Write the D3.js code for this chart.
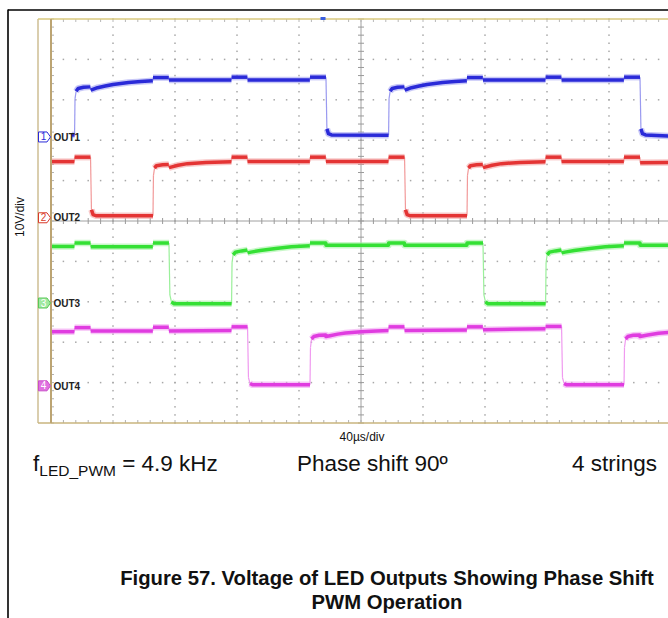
<!DOCTYPE html>
<html><head><meta charset="utf-8">
<script src="https://cdn.jsdelivr.net/npm/d3@7/dist/d3.min.js"></script>
<style>
html,body{margin:0;padding:0;background:#fff;}
svg{display:block;font-family:"Liberation Sans", Arial, Helvetica, sans-serif;}
</style></head><body>
<svg id="c" width="668" height="618"></svg>
<script>
// ---------- DATA ----------
const timeTicks = [0,40,80,120,160,200,240,280,320,360,400];   // µs, 40 µs/div
const divTicks = [-5,-4,-3,-2,-1,0,1,2,3,4,5];                    // vertical divisions
const channelNames = ["OUT1","OUT2","OUT3","OUT4"];
const channelNumbers = ["1","2","3","4"];
const xAxisLabel = "40µs/div";
const yAxisLabel = "10V/div";
const triggerTime = 175.5;

// [time µs, volts]
const out1 = [[13.5,0.5],[15.2,0.5],[15.5,9.5],[16.2,11.3],[17.5,12.0],[21,12.3],[25.4,12.4],[25.6,11.6],[27,11.8],[30,12.2],[35,12.6],[40,13.0],[50,13.5],[58,13.7],[65.7,13.9],[65.8,14.7],[76.0,14.7],[76.1,14.1],[116.4,14.1],[116.5,14.8],[126.7,14.8],[126.8,14.1],[167.0,14.1],[167.1,14.8],[177.4,14.8],[178.0,2.0],[179.0,0.8],[181,0.5],[217.8,0.4],[218.1,9.5],[218.8,11.3],[220.1,12.0],[223.6,12.3],[228.0,12.4],[228.2,11.6],[229.6,11.8],[232.6,12.2],[237.6,12.6],[242.6,13.0],[252.6,13.5],[260.6,13.7],[268.3,13.9],[268.4,14.7],[278.6,14.7],[278.7,14.1],[319.0,14.1],[319.1,14.8],[329.3,14.8],[329.4,14.1],[369.6,14.1],[369.7,14.8],[380.0,14.8],[380.6,2.0],[381.6,0.8],[383.6,0.5],[400,0.2]];
const out2 = [[0,13.9],[15.1,13.9],[15.2,15.0],[25.5,15.0],[26.1,2.0],[27.1,0.8],[29,0.5],[65.8,0.5],[66.1,10.5],[66.8,12.3],[68,12.9],[72,13.1],[76.0,13.2],[76.1,12.4],[78,12.6],[82,13.0],[88,13.4],[100,13.7],[116.4,13.85],[116.5,15.0],[126.7,15.0],[126.8,13.9],[167.0,13.9],[167.1,15.0],[177.3,15.0],[177.4,13.9],[217.7,13.9],[217.8,15.0],[228.1,15.0],[228.7,2.0],[229.7,0.8],[231.6,0.5],[268.4,0.5],[268.7,10.5],[269.4,12.3],[270.6,12.9],[274.6,13.1],[278.6,13.2],[278.7,12.4],[280.6,12.6],[284.6,13.0],[290.6,13.4],[302.6,13.7],[319.0,13.85],[319.1,15.0],[329.3,15.0],[329.4,13.9],[369.6,13.9],[369.7,15.0],[380.0,15.0],[380.1,13.6],[400,13.7]];
const out3 = [[0,14.0],[15.1,14.0],[15.2,14.85],[25.5,14.85],[25.6,13.9],[65.7,13.9],[65.8,14.85],[76.1,14.85],[76.7,2.0],[77.7,0.3],[79.5,-0.2],[116.5,-0.2],[116.8,10.0],[117.5,11.9],[119,12.6],[123,12.9],[126.7,13.1],[126.8,12.4],[129,12.6],[135,13.0],[145,13.5],[155,13.9],[167.0,14.2],[167.1,14.85],[177.3,14.85],[177.4,14.3],[217.7,14.3],[217.8,14.85],[228.0,14.85],[228.1,14.3],[268.3,14.3],[268.4,14.85],[278.7,14.85],[279.3,2.0],[280.3,0.3],[282,-0.2],[319.1,-0.2],[319.4,10.0],[320.1,11.9],[321.6,12.6],[325.6,12.9],[329.3,13.1],[329.4,12.4],[331.6,12.6],[337.6,13.0],[347.6,13.5],[357.6,13.9],[369.6,14.2],[369.7,14.85],[380,14.85],[380.1,14.3],[400,14.3]];
const out4 = [[0,13.4],[15.1,13.4],[15.2,14.4],[25.5,14.4],[25.6,13.6],[65.7,13.6],[65.8,14.5],[76.0,14.5],[76.1,13.6],[116.4,13.7],[116.5,14.6],[126.8,14.6],[127.4,2.0],[128.4,0.6],[130,0.25],[167.1,0.25],[167.4,9.5],[168.1,11.6],[169.5,12.2],[173,12.5],[177.3,12.6],[177.4,12.2],[180,12.4],[185,12.8],[190,13.1],[200,13.4],[210,13.6],[217.7,13.7],[217.8,14.6],[228.0,14.6],[228.1,13.7],[268.3,13.8],[268.4,14.6],[278.6,14.6],[278.7,13.9],[319.0,14.1],[319.1,14.7],[329.4,14.7],[330,2.0],[331,0.6],[332.6,0.25],[369.7,0.25],[370.0,9.5],[370.7,11.6],[372.1,12.2],[375.6,12.5],[379.9,12.6],[380.0,12.2],[385,12.6],[392,13.0],[400,13.3]];
const series = [out1,out2,out3,out4];

// ---------- SETTINGS ----------
const colors = ["#2a2ad8","#e43434","#34e034","#e03ce0"];
const fuzz   = ["#9a9af0","#f29a9a","#9af09a","#f09af0"];
const offsets = [2.08,0.08,-2.03,-4.08]; // channel ground positions in divisions
const voltsPerDiv = 10;

const svg = d3.select("#c");
const x = d3.scaleLinear().domain([0,400]).range([51,671]);
const yDiv = d3.scaleLinear().domain([-5,5]).range([423,19]);
const yOf = (ch,v) => yDiv(offsets[ch] + v/voltsPerDiv);

// outer frame
svg.append("line").attr("x1",8).attr("x2",8).attr("y1",9.5).attr("y2",618).attr("stroke","#000").attr("stroke-width",1.6);
svg.append("line").attr("x1",8).attr("x2",668).attr("y1",10).attr("y2",10).attr("stroke","#000").attr("stroke-width",1.6);

const g = svg.append("g");
const minorT = d3.range(0,400.01,8);
const minorD = d3.range(-5,5.001,0.2);

// grid dots
timeTicks.forEach(t=>{
  if(t===0||t===200||t===400) return;
  minorD.forEach(d=>{
    g.append("rect").attr("x",x(t)-0.75).attr("y",yDiv(d)-0.75).attr("width",1.5).attr("height",1.5).attr("fill","#a8a8a8");
  });
});
divTicks.forEach(d=>{
  if(d===-5||d===0||d===5) return;
  minorT.forEach(t=>{
    g.append("rect").attr("x",x(t)-0.75).attr("y",yDiv(d)-0.75).attr("width",1.5).attr("height",1.5).attr("fill","#a8a8a8");
  });
});
// center axes with ticks
g.append("line").attr("x1",x(200)).attr("x2",x(200)).attr("y1",yDiv(5)).attr("y2",yDiv(-5)).attr("stroke","#a0a0a0").attr("stroke-width",1);
g.append("line").attr("x1",x(0)).attr("x2",668).attr("y1",yDiv(0)).attr("y2",yDiv(0)).attr("stroke","#a0a0a0").attr("stroke-width",1);
minorD.forEach(d=>{
  g.append("line").attr("x1",x(200)-3).attr("x2",x(200)+3).attr("y1",yDiv(d)).attr("y2",yDiv(d)).attr("stroke","#9a9a9a");
  g.append("line").attr("x1",x(0)).attr("x2",x(0)+3).attr("y1",yDiv(d)).attr("y2",yDiv(d)).attr("stroke","#b0b0b0");
});
minorT.forEach(t=>{
  g.append("line").attr("x1",x(t)).attr("x2",x(t)).attr("y1",yDiv(0)-3).attr("y2",yDiv(0)+3).attr("stroke","#9a9a9a");
  g.append("line").attr("x1",x(t)).attr("x2",x(t)).attr("y1",yDiv(-5)-3).attr("y2",yDiv(-5)).attr("stroke","#b0b0b0");
  g.append("line").attr("x1",x(t)).attr("x2",x(t)).attr("y1",yDiv(5)).attr("y2",yDiv(5)+3).attr("stroke","#b8b8b8");
});

// scope frame
g.append("line").attr("x1",38).attr("x2",38).attr("y1",yDiv(5)).attr("y2",yDiv(-5)).attr("stroke","#c2ad78").attr("stroke-width",1.2);
g.append("line").attr("x1",38).attr("x2",668).attr("y1",yDiv(5)).attr("y2",yDiv(5)).attr("stroke","#d8c87e").attr("stroke-width",1.5);
g.append("line").attr("x1",38).attr("x2",668).attr("y1",yDiv(-5)).attr("y2",yDiv(-5)).attr("stroke","#c8b47e").attr("stroke-width",1.5);

// clip
svg.append("defs").append("clipPath").attr("id","clip").append("rect")
  .attr("x",51).attr("y",yDiv(5)).attr("width",620).attr("height",yDiv(-5)-yDiv(5));

const tr = svg.append("g").attr("clip-path","url(#clip)");
const line = d3.line();
series.forEach((data,ch)=>{
  const pts = data.map(d=>[x(d[0]), yOf(ch,d[1])]);
  const flatRuns=[], steep=[];
  let run=null;
  for(let i=0;i<pts.length-1;i++){
    const a=pts[i], b=pts[i+1];
    const dx=Math.abs(b[0]-a[0]), dy=Math.abs(b[1]-a[1]);
    const isSteep = dy > 2*dx + 2;
    if(isSteep){ steep.push([a,b]); run=null; }
    else { if(!run){ run=[a]; flatRuns.push(run);} run.push(b); }
  }
  steep.forEach(s=>{
    tr.append("path").attr("d",line(s)).attr("fill","none").attr("stroke",fuzz[ch]).attr("stroke-width",1.2);
  });
  flatRuns.forEach(r=>{
    tr.append("path").attr("d",line(r)).attr("fill","none").attr("stroke",fuzz[ch]).attr("stroke-width",6.5).attr("stroke-opacity",0.55).attr("stroke-linejoin","round");
  });
  flatRuns.forEach(r=>{
    tr.append("path").attr("d",line(r)).attr("fill","none").attr("stroke",colors[ch]).attr("stroke-width",3.5).attr("stroke-linejoin","round");
  });
});

// left edge line over traces
svg.append("line").attr("x1",51).attr("x2",51).attr("y1",yDiv(5)).attr("y2",yDiv(-5)).attr("stroke","#bca472").attr("stroke-width",2);

// trigger marker
svg.append("rect").attr("x",x(triggerTime)-2.5).attr("y",yDiv(5)-2).attr("width",5).attr("height",3).attr("fill","#3a5ee0");

// channel markers
const mk = [
  {fill:"#ffffff", stroke:"#2a2ad8", text:"#2a2ad8"},
  {fill:"#ffffff", stroke:"#d83a2a", text:"#d83a2a"},
  {fill:"#a0e8a0", stroke:"#58c858", text:"#ffffff"},
  {fill:"#e070e0", stroke:"#c850c8", text:"#ffffff"}
];
channelNames.forEach((name,ch)=>{
  const cy = yOf(ch,0);
  svg.append("path")
    .attr("d",`M38.5,${cy-5}L47,${cy-5}L50.5,${cy}L47,${cy+5}L38.5,${cy+5}Z`)
    .attr("fill",mk[ch].fill).attr("stroke",mk[ch].stroke).attr("stroke-width",1);
  svg.append("text").attr("x",43.5).attr("y",cy+3.5).attr("text-anchor","middle")
    .attr("font-size",10).attr("fill",mk[ch].text).text(channelNumbers[ch]);
  svg.append("text").attr("x",53.5).attr("y",cy+3.7)
    .attr("font-size",10).attr("font-weight","bold").attr("fill","#222").text(name);
});

// axis labels
svg.append("text").attr("transform",`translate(24,${yDiv(0)-4}) rotate(-90)`).attr("text-anchor","middle")
  .attr("font-size",12).attr("fill","#111").text(yAxisLabel);
svg.append("text").attr("x",x(200)+1).attr("y",441).attr("text-anchor","middle")
  .attr("font-size",12).attr("fill","#111").text(xAxisLabel);

// annotations
const ann = svg.append("text").attr("x",33).attr("y",471).attr("font-size",22.5).attr("fill","#111");
ann.append("tspan").text("f");
ann.append("tspan").attr("font-size",15.5).attr("dy",5).text("LED_PWM");
ann.append("tspan").attr("dy",-5).text(" = 4.9 kHz");
svg.append("text").attr("x",297).attr("y",471).attr("font-size",22.5).attr("fill","#111").text("Phase shift 90º");
svg.append("text").attr("x",657).attr("y",471).attr("text-anchor","end").attr("font-size",22.5).attr("fill","#111").text("4 strings");

// caption
svg.append("text").attr("x",387).attr("y",585).attr("text-anchor","middle").attr("font-size",20.3).attr("font-weight","bold").attr("fill","#111")
  .text("Figure 57. Voltage of LED Outputs Showing Phase Shift");
svg.append("text").attr("x",387).attr("y",609).attr("text-anchor","middle").attr("font-size",20.3).attr("font-weight","bold").attr("fill","#111")
  .text("PWM Operation");
</script>
</body></html>
